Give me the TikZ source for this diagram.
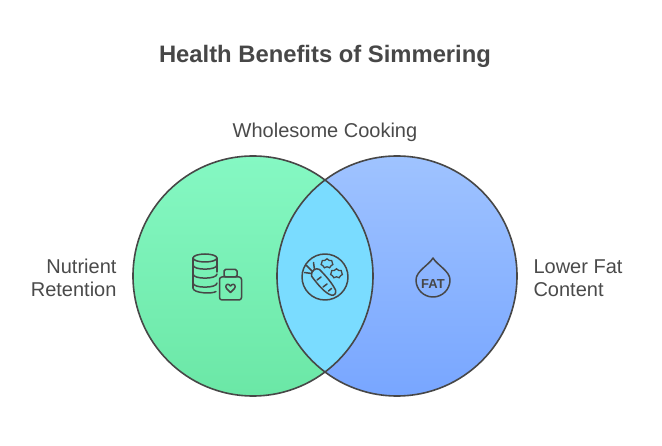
\documentclass[tikz,border=0pt]{standalone}
\usepackage{fontspec}
\setmainfont{Liberation Sans}
\usetikzlibrary{shapes.symbols}
\definecolor{ink}{HTML}{474747}
\definecolor{txt}{HTML}{4A4A4A}
\definecolor{greenT}{HTML}{85F8C3}
\definecolor{greenB}{HTML}{6BE7A6}
\definecolor{blueT}{HTML}{9FC3FF}
\definecolor{blueB}{HTML}{78A6FF}
\definecolor{inter}{HTML}{7ADCFF}
\tikzset{
  ring/.style={draw=ink, line width=1.6pt},
  icon/.style={draw=ink, line width=1.5pt, line cap=round, line join=round},
  label/.style={text=txt, font=\fontsize{20}{23}\selectfont},
  puff/.style={cloud, cloud puffs=7, draw=ink, line width=1.3pt, minimum width=12pt, minimum height=9.5pt, inner sep=0pt, aspect=1.2}
}
\begin{document}
\begin{tikzpicture}[x=1pt,y=-1pt]
\useasboundingbox (0,0) rectangle (662,446);
\fill[white] (0,0) rectangle (662,446);
\coordinate (L) at (253,276);
\coordinate (R) at (397,276);
\shade[top color=greenT,bottom color=greenB] (L) circle[radius=120];
\shade[top color=blueT,bottom color=blueB] (R) circle[radius=120];
\begin{scope}
\clip (L) circle[radius=120];
\fill[inter] (R) circle[radius=120];
\end{scope}
\draw[ring] (L) circle[radius=120];
\draw[ring] (R) circle[radius=120];

\node[text=ink, font=\bfseries\fontsize{23.8}{27}\selectfont] (title) at (325,56) {Health Benefits of Simmering};
\node[label] (whole) at (325,132) {Wholesome Cooking};
\node[label, align=right, anchor=east] (nutr) at (120,278) {Nutrient\\Retention};
\node[label, align=left, anchor=west] (fat) at (530,278) {Lower Fat\\Content};

% database stack
\draw[icon] (205,258) ellipse (12 and 4);
\draw[icon] (193,258) -- (193,288);
\draw[icon] (217,258) -- (217,272);
\foreach \yy in {265,274,283} {
  \draw[icon] (193,\yy) .. controls (193,\yy+5.5) and (217,\yy+5.5) .. (217,\yy);
}
\draw[icon] (193,288) .. controls (193,293.5) and (213,294) .. (216,291.5);
% jar
\draw[icon, rounded corners=2.5pt] (219.5,277) rectangle (241.5,300);
\draw[icon, rounded corners=1.5pt] (224,269.5) rectangle (237,277);
\draw[icon] (230.5,292.5) -- (226.6,288.6) .. controls (224.6,286.4) and (226.8,283.2) .. (229,284.6) -- (230.5,286)
  -- (232,284.6) .. controls (234.2,283.2) and (236.4,286.4) .. (234.4,288.6) -- cycle;

% carrot circle
\draw[icon] (325,277) circle[radius=23];
\draw[icon] (311.5,276) .. controls (318,285) and (325,293) .. (331,295)
  .. controls (334.5,296) and (336.5,293.5) .. (335.5,290)
  .. controls (332,283) and (326,276) .. (319.5,269.5)
  .. controls (316,267) and (310.5,271) .. (311.5,276) -- cycle;
\draw[icon] (317,280) -- (321,277);
\draw[icon] (323,287) -- (327,284);
\draw[icon] (328.5,291) -- (331.5,288.5);
\draw[icon] (312.5,271.5) -- (306.5,265.5);
\draw[icon] (311.5,273.5) -- (304.5,272.5);
\draw[icon] (314.5,269.5) -- (313.5,262.5);
\node[puff] (p1) at (327,263.5) {};
\node[puff] (p2) at (336.5,273.5) {};

% fat drop
\draw[icon] (433,258) .. controls (437,265) and (450,271) .. (450,280)
  arc[start angle=0, end angle=180, radius=17]
  .. controls (416,271) and (429,265) .. cycle;
\node[text=ink, font=\bfseries\fontsize{13}{15}\selectfont] (fattxt) at (433,284.5) {FAT};
\end{tikzpicture}
\end{document}
